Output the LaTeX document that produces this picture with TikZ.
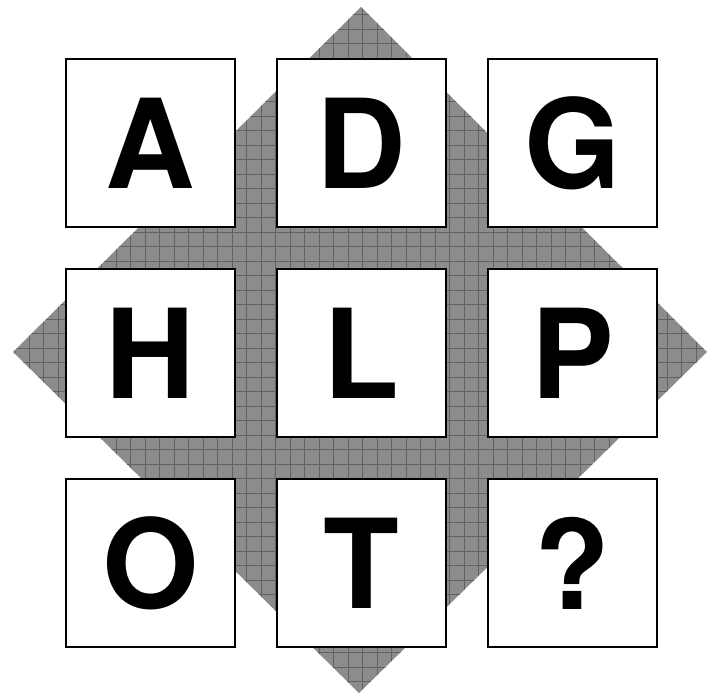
\documentclass[tikz,border=0pt]{standalone}
\usepackage{fontspec}
\newfontfamily\letterfont{TeX Gyre Heros}
\begin{document}
\begin{tikzpicture}[x=1pt,y=-1pt,
  cell/.style={draw=black,line width=2pt,fill=white,minimum width=169pt,minimum height=168pt,inner sep=0pt,
    font=\letterfont\bfseries\fontsize{124}{124}\selectfont},
  gridline/.style={draw=black!62,line width=0.6pt}]
\useasboundingbox (0,0) rectangle (716,695);
% diamond background
\coordinate (dt) at (361,7);
\coordinate (dr) at (707,352);
\coordinate (db) at (359,693);
\coordinate (dl) at (13,352);
\fill[black!45] (dt) -- (dr) -- (db) -- (dl) -- cycle;
\begin{scope}
  \clip (dt) -- (dr) -- (db) -- (dl) -- cycle;
  \foreach \k in {0,...,50} {
    \draw[gridline] (\k*14.5,0) -- (\k*14.5,695);
    \draw[gridline] (0,\k*14.5) -- (716,\k*14.5);
  }
\end{scope}
% boxes
\node[cell] (a) at (150.5,143.5) {A};
\node[cell] (d) at (361,143.5) {D};
\node[cell] (g) at (572.5,143.5) {G};
\node[cell] (h) at (150.5,353.5) {H};
\node[cell] (l) at (361,353.5) {L};
\node[cell] (p) at (572.5,353.5) {P};
\node[cell] (o) at (150.5,563) {O};
\node[cell] (t) at (361,563) {T};
\node[cell] (q) at (572.5,563) {?};
\end{tikzpicture}
\end{document}
